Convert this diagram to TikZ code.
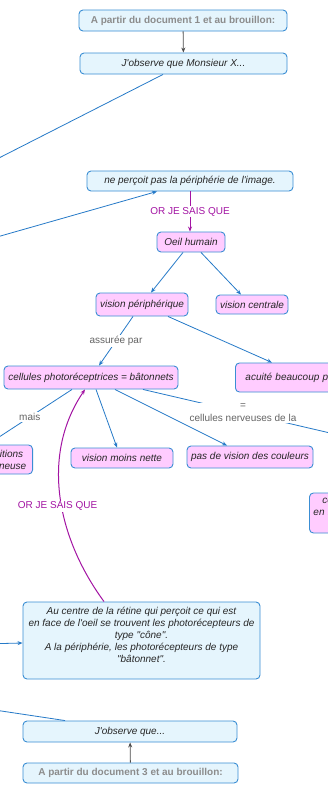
\documentclass[tikz,border=0pt]{standalone}
\usepackage{fontspec}
\setmainfont{Liberation Sans}[Ligatures=TeXOff]
\usetikzlibrary{arrows.meta}

\definecolor{boxblue}{RGB}{58,142,212}
\definecolor{linkblue}{RGB}{38,122,200}
\definecolor{paleblue}{RGB}{229,245,253}
\definecolor{palepink}{RGB}{255,204,255}
\definecolor{ormagenta}{RGB}{163,20,163}
\definecolor{labgray}{RGB}{100,100,100}
\definecolor{docgray}{RGB}{140,140,140}

\begin{document}
\begin{tikzpicture}[x=1pt, y=-1pt, >={Stealth[length=5pt, width=4pt]},
    box/.style={draw=boxblue, line width=0.9pt, rounded corners=4pt, inner sep=2pt, text=black!85},
    docbox/.style={box, fill=paleblue, text=docgray, font=\fontsize{10}{12}\selectfont\bfseries},
    obsbox/.style={box, fill=paleblue, font=\fontsize{10}{12}\selectfont\itshape},
    conbox/.style={box, fill=palepink, font=\fontsize{10}{12}\selectfont\itshape},
    link/.style={draw=linkblue, line width=0.8pt},
    linklab/.style={fill=white, text=labgray, inner sep=1pt, align=center, font=\fontsize{10}{12.6}\selectfont},
    orlink/.style={draw=ormagenta, line width=1pt},
    orlab/.style={fill=white, text=ormagenta, inner sep=1pt, font=\fontsize{10}{12}\selectfont},
    docarrow/.style={draw=black!70, line width=0.8pt, ->}]
    \useasboundingbox (0,0) rectangle (328,785);
    \fill[white] (0,0) rectangle (328,785);
    \clip (0,0) rectangle (328,785);

    % Nodes
    \node[docbox, minimum width=208pt, minimum height=21pt] (doc1) at (183,20.5) {A partir du document 1 et au brouillon:};
    \node[obsbox, minimum width=207pt, minimum height=21pt] (obs1) at (183.5,63.5) {J'observe que Monsieur X...};
    \node[obsbox, minimum width=206pt, minimum height=20pt] (perc) at (190,181) {ne perçoit pas la périphérie de l'image.};
    \node[conbox, minimum width=68pt, minimum height=20pt] (oeil) at (191,242) {Oeil humain};
    \node[conbox, minimum width=92pt, minimum height=23pt] (vperi) at (142,304.5) {vision périphérique};
    \node[conbox, minimum width=72pt, minimum height=19pt] (vcent) at (252,304.5) {vision centrale};
    \node[conbox, minimum width=174pt, minimum height=23pt] (cell) at (91,377.5) {cellules photoréceptrices = bâtonnets};
    \node[conbox, anchor=west, text width=130pt, align=left, inner xsep=10pt, minimum height=29pt] (acuite) at (235,377.5) {acuité beaucoup p};
    \node[conbox, anchor=east, text width=42pt, align=center, inner xsep=0pt, minimum height=29pt] (cond) at (33,459.5) {itions\\ineuse};
    \node[conbox, minimum width=102pt, minimum height=20pt] (vmoins) at (122,458) {vision moins nette};
    \node[conbox, minimum width=126pt, minimum height=22pt] (pasvis) at (250,457) {pas de vision des couleurs};
    \node[conbox, anchor=west, text width=60pt, align=left, inner xsep=4pt, minimum height=40pt] (cnerv) at (309,513) {\hspace*{9pt}co\\en l\\\mbox{}};
    \node[obsbox, minimum width=237pt, minimum height=77pt, align=center] (centre) at (141.5,640.5)
        {Au centre de la rétine qui perçoit ce qui est\\en face de l'oeil se trouvent les photorécepteurs de\\type "cône".\\A la périphérie, les photorécepteurs de type\\"bâtonnet".\\\mbox{}};
    \node[obsbox, minimum width=214pt, minimum height=21pt] (obs3) at (130,731.5) {J'observe que...};
    \node[docbox, minimum width=215pt, minimum height=20pt] (doc3) at (130.5,773) {A partir du document 3 et au brouillon:};

    \coordinate (offobs1) at (-60,188);
    \coordinate (offperc) at (-60,253.2);
    \coordinate (offcnerv) at (343,436);
    \coordinate (offcentre) at (-60,645);
    \coordinate (offobs3) at (-60,701.8);

    % Links
    \draw[docarrow] (doc1) -- (obs1);
    \draw[link] ([xshift=-20.5pt]obs1.south) -- (offobs1);
    \draw[link, ->] (offperc) -- ([xshift=-33pt]perc.south);
    \draw[orlink, ->] (perc.south) -- node[orlab] {OR JE SAIS QUE} (perc.south |- oeil.north);
    \draw[link, ->] ([xshift=-8pt]oeil.south) -- ([xshift=9pt]vperi.north);
    \draw[link, ->] ([xshift=10pt]oeil.south) -- ([xshift=-11pt]vcent.north);
    \draw[link, ->] ([xshift=-9pt]vperi.south) -- node[linklab] {assurée par} ([xshift=8pt]cell.north);
    \draw[link, ->] ([xshift=26pt]vperi.south) -- ([xshift=37pt]acuite.north west);
    \draw[link, ->] ([xshift=-19pt]cell.south) -- node[linklab] {mais} ([xshift=-24pt]cond.north);
    \draw[link, ->] ([xshift=5pt]cell.south) -- ([xshift=-5pt]vmoins.north);
    \draw[link, ->] ([xshift=24pt]cell.south) -- ([xshift=-23pt]pasvis.north);
    \draw[link, ->] ([xshift=52pt]cell.south) -- node[linklab] {=\\cellules nerveuses de la} (offcnerv);
    \draw[orlink, ->] ([xshift=-37.5pt]centre.north) .. controls (56,536) and (41,454) ..
        node[orlab, pos=0.45, xshift=-4pt] {OR JE SAIS QUE} ([xshift=-6pt]cell.south);
    \draw[link, ->] (offcentre) -- ([yshift=-2.5pt]centre.west);
    \draw[link] ([xshift=-65pt]obs3.north) -- (offobs3);
    \draw[docarrow] (doc3) -- (obs3);
\end{tikzpicture}
\end{document}
